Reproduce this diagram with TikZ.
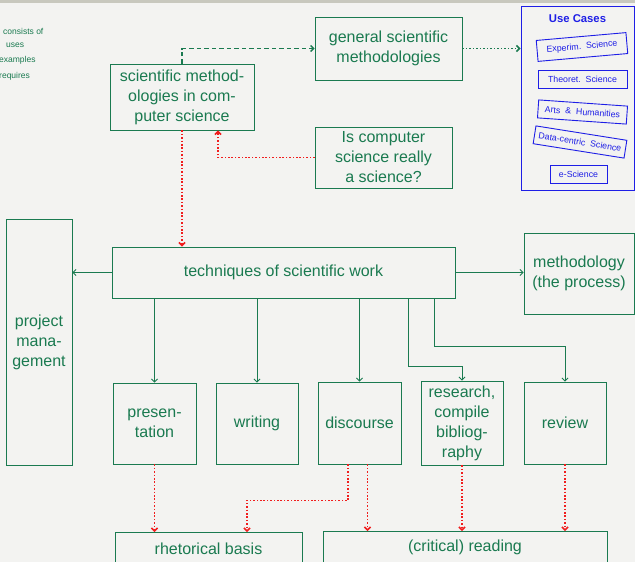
\documentclass[tikz,border=0pt]{standalone}
\usepackage{fontspec}
\setmainfont{Liberation Sans}
\usetikzlibrary{arrows.meta}
\definecolor{gr}{RGB}{26,122,80}
\definecolor{rd}{RGB}{240,30,30}
\definecolor{bl}{RGB}{30,30,230}
\definecolor{bgc}{RGB}{243,243,241}
\definecolor{barc}{RGB}{200,200,190}
\tikzset{
  box/.style={draw=gr, line width=0.9pt, text=gr, align=center, inner sep=0pt,
    font=\fontsize{16}{20}\selectfont},
  ucbox/.style={draw=bl, line width=0.9pt, text=bl, align=center, inner sep=0pt,
    font=\fontsize{8.8}{10}\selectfont, minimum height=18},
  legend/.style={text=gr, inner sep=0pt, anchor=west, font=\fontsize{8.5}{10}\selectfont},
  tip/.style={-{Straight Barb[length=3pt,width=6pt]}},
  garr/.style={tip, draw=gr, line width=0.9pt},
  gdash/.style={tip, draw=gr, line width=1.3pt, dash pattern=on 4.5pt off 3pt},
  gdot/.style={tip, draw=gr, line width=1.5pt, dash pattern=on 1.5pt off 2pt},
  rdot/.style={tip, draw=rd, line width=1.6pt, dash pattern=on 1.6pt off 1.8pt},
}
\begin{document}
\begin{tikzpicture}[x=1pt,y=-1pt]
\useasboundingbox (0,0) rectangle (635,562);
\fill[bgc] (0,0) rectangle (635,562);
\fill[barc] (0,0) rectangle (635,3);

% legend
\node[legend] (l1) at (3,31) {consists of};
\node[legend] (l2) at (6,45) {uses};
\node[legend] (l3) at (-1,60) {examples};
\node[legend] (l4) at (-1,76) {requires};

% top nodes
\node[box, minimum width=144, minimum height=66] (sci) at (182,97) {scientific method-\\ologies in com-\\puter science};
\node[box, minimum width=147, minimum height=63] (gen) at (388.5,48.5) {general scientific\\methodologies};
\node[box, minimum width=137, minimum height=61] (isc) at (383.5,157.5) {Is computer\\science really\\a science?};

% use cases
\node[draw=bl, line width=1pt, minimum width=113, minimum height=184, inner sep=0pt] (uc) at (577.5,98) {};
\node[text=bl, font=\fontsize{11.3}{13}\selectfont\bfseries, inner sep=0pt] (uct) at (577.5,19) {Use Cases};
\node[ucbox, minimum width=90, minimum height=21, rotate=5] (u1) at (582,47) {Experim.\ \ Science};
\node[ucbox, minimum width=89] (u2) at (582.5,79) {Theoret.\ \ Science};
\node[ucbox, minimum width=89, rotate=-4] (u3) at (582.5,112) {Arts \ \& \ Humanities};
\node[ucbox, minimum width=92, rotate=-9] (u4) at (580,142) {Data-centric\ \ Science};
\node[ucbox, minimum width=57] (u5) at (578.5,174) {e-Science};

% middle
\node[box, minimum width=343, minimum height=51] (tech) at (283.5,272.5) {techniques of scientific work};
\node[box, minimum width=66, minimum height=246] (pm) at (39,342) {project\\mana-\\gement};
\node[box, minimum width=110, minimum height=81] (meth) at (579,273.5) {methodology\\(the process)};

% bottom row
\node[box, minimum width=83, minimum height=81] (pres) at (154.5,423.5) {presen-\\tation};
\node[box, minimum width=82, minimum height=81] (writ) at (257,423.5) {writing};
\node[box, minimum width=83, minimum height=82] (disc) at (359.5,423) {discourse};
\node[box, minimum width=82, minimum height=84] (res) at (462,423) {research,\\compile\\bibliog-\\raphy};
\node[box, minimum width=82, minimum height=82] (rev) at (565,423) {review};

\node[box, minimum width=187, minimum height=32] (rhet) at (208.5,548.5) {rhetorical basis};
\node[box, minimum width=284, minimum height=32] (read) at (465,547.5) {(critical) reading};

% connectors
\draw[gdash] (sci.north) |- (gen.west);
\draw[gdot] (gen.east) -- (uc.west |- gen.east);
\draw[rdot] (isc.west) -| ([xshift=36pt]sci.south);
\draw[rdot] (sci.south) -- (sci.south |- tech.north);

\draw[garr] (tech.west) -- (pm.east |- tech.west);
\draw[garr] (tech.east) -- (meth.west |- tech.east);

\draw[garr] (pres.north |- tech.south) -- (pres.north);
\draw[garr] (writ.north |- tech.south) -- (writ.north);
\draw[garr] (disc.north |- tech.south) -- (disc.north);
\draw[garr] ([xshift=124.5pt]tech.south) -- ++(0,68) -| (res.north);
\draw[garr] ([xshift=150.5pt]tech.south) -- ++(0,48) -| (rev.north);

\draw[rdot] (pres.south) -- (pres.south |- rhet.north);
\draw[rdot] ([xshift=-11.5pt]disc.south) -- ++(0,36) -| ([xshift=38.5pt]rhet.north);
\draw[rdot] ([xshift=8pt]disc.south) -- ([xshift=8pt]disc.south |- read.north);
\draw[rdot] (res.south) -- (res.south |- read.north);
\draw[rdot] (rev.south) -- (rev.south |- read.north);
\end{tikzpicture}
\end{document}
